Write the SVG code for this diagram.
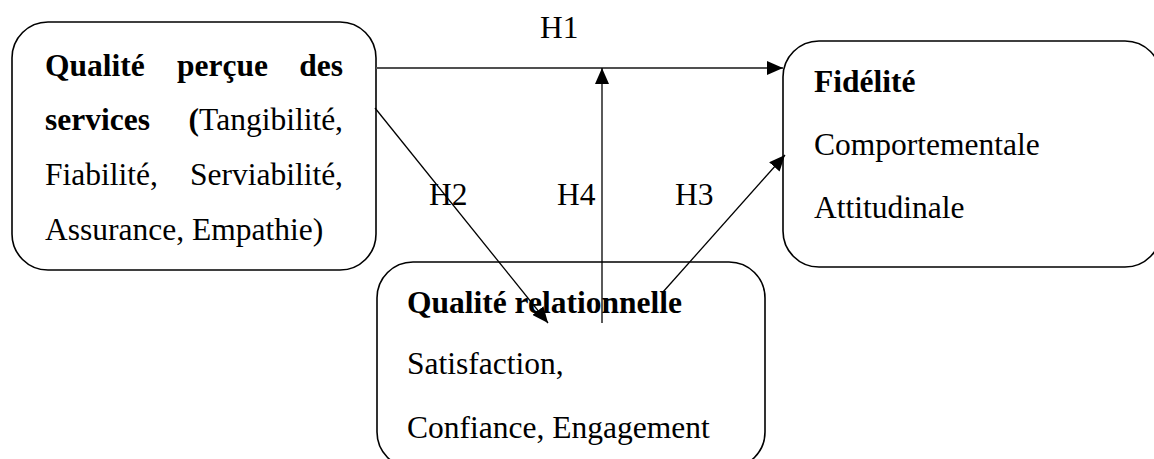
<svg xmlns="http://www.w3.org/2000/svg" width="1154" height="459" viewBox="0 0 1154 459">
<style>
.box{fill:#fff;stroke:#000;stroke-width:1.6}
text{font-family:"Liberation Serif","Times New Roman",serif;font-size:31.5px;fill:#000}
.b{font-weight:bold}
.ln{stroke:#000;stroke-width:1.3;fill:none}
.h1{stroke:#505050;stroke-width:2;fill:none}
</style>
<defs>
<marker id="ah" viewBox="0 0 16 14" refX="16" refY="7" markerWidth="16" markerHeight="14" markerUnits="userSpaceOnUse" orient="auto">
<path d="M0,0 L16,7 L0,14 Z" fill="#000"/>
</marker>
</defs>
<g id="node-qualite-percue">
<rect class="box" x="12" y="22" width="364" height="248" rx="36" ry="36"/>
<text x="45" y="76" class="b">Qualité</text>
<text x="177" y="76" class="b">perçue</text>
<text x="343" y="76" class="b" text-anchor="end">des</text>
<text x="45" y="130" class="b">services</text>
<text x="343" y="130" text-anchor="end"><tspan class="b">(</tspan>Tangibilité,</text>
<text x="45" y="185">Fiabilité,</text>
<text x="343" y="185" text-anchor="end">Serviabilité,</text>
<text x="45" y="240">Assurance, Empathie)</text>
</g>
<g id="node-fidelite">
<rect class="box" x="783" y="41" width="378" height="226" rx="36" ry="36"/>
<text x="814" y="92" class="b">Fidélité</text>
<text x="814" y="155">Comportementale</text>
<text x="814" y="218">Attitudinale</text>
</g>
<g id="node-qualite-relationnelle">
<rect class="box" x="377" y="262" width="388" height="206" rx="36" ry="36"/>
<text x="407" y="313" class="b">Qualité relationnelle</text>
<text x="407" y="374">Satisfaction,</text>
<text x="407" y="438">Confiance, Engagement</text>
</g>
<g id="connectors">
<line class="h1" x1="376" y1="68" x2="783" y2="68" marker-end="url(#ah)"/>
<line class="ln" x1="375" y1="108" x2="548" y2="323" marker-end="url(#ah)"/>
<line class="ln" x1="602" y1="323" x2="602" y2="68" marker-end="url(#ah)"/>
<line class="ln" x1="663" y1="292" x2="785" y2="155" marker-end="url(#ah)"/>
</g>
<g id="labels">
<text x="540" y="38">H1</text>
<text x="429" y="205">H2</text>
<text x="557" y="205">H4</text>
<text x="675" y="205">H3</text>
</g>
</svg>
